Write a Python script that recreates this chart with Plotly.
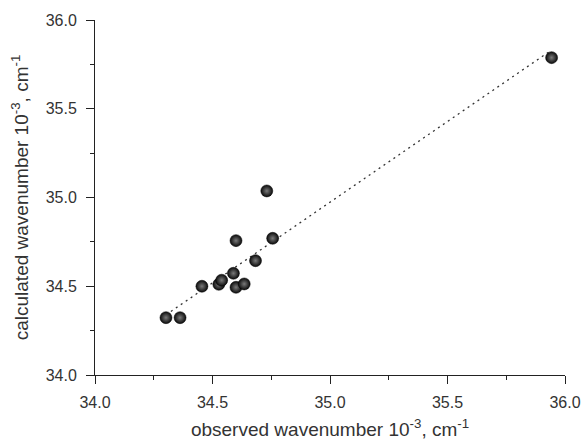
import numpy as np
import plotly.graph_objects as go

observed = [34.302, 34.362, 34.455, 34.527, 34.539, 34.589, 34.600, 34.635,
            34.683, 34.600, 34.756, 34.731, 35.943]
calculated = [34.323, 34.323, 34.500, 34.511, 34.534, 34.573, 34.494, 34.513,
              34.644, 34.757, 34.770, 35.037, 35.788]

x_title = "observed wavenumber 10<sup>-3</sup>, cm<sup>-1</sup>"
y_title = "calculated wavenumber 10<sup>-3</sup>, cm<sup>-1</sup>"
tick_vals = [34.0, 34.5, 35.0, 35.5, 36.0]
tick_text = ["34.0", "34.5", "35.0", "35.5", "36.0"]

b, a = np.polyfit(observed, calculated, 1)
fit_x = [min(observed), max(observed)]
fit_y = [a + b * v for v in fit_x]

FONT = "Liberation Sans, Arial"

fig = go.Figure()
fig.add_trace(go.Scatter(x=fit_x, y=fit_y, mode="lines",
                         line=dict(color="#333333", width=1.3, dash="2px,4px"),
                         showlegend=False, hoverinfo="skip"))
fig.add_trace(go.Scatter(x=observed, y=calculated, mode="markers",
                         marker=dict(size=12, color="#0a0a0a",
                                     gradient=dict(type="radial", color="#7a7a7a"),
                                     line=dict(width=0.5, color="#000000")),
                         showlegend=False))

axis_common = dict(range=[34, 36], tickvals=tick_vals, ticktext=tick_text,
                   showline=True, linecolor="#222222", linewidth=1,
                   ticks="outside", ticklen=8, tickwidth=1, tickcolor="#222222",
                   showgrid=False, zeroline=False, automargin=False,
                   tickfont=dict(family=FONT, size=16, color="#333333"),
                   minor=dict(ticks="outside", ticklen=4, tickwidth=1,
                              tickcolor="#222222", dtick=0.25, showgrid=False))

fig.update_xaxes(**axis_common, ticklabelstandoff=5,
                 title=dict(text=x_title, standoff=14,
                            font=dict(family=FONT, size=19, color="#333333")))
fig.update_yaxes(**axis_common, ticklabelstandoff=6,
                 title=dict(text=y_title, standoff=12,
                            font=dict(family=FONT, size=19, color="#333333")))

fig.update_layout(width=584, height=440, margin=dict(l=95, r=19, t=20, b=65),
                  plot_bgcolor="white", paper_bgcolor="white")

fig.write_html("out.html")
